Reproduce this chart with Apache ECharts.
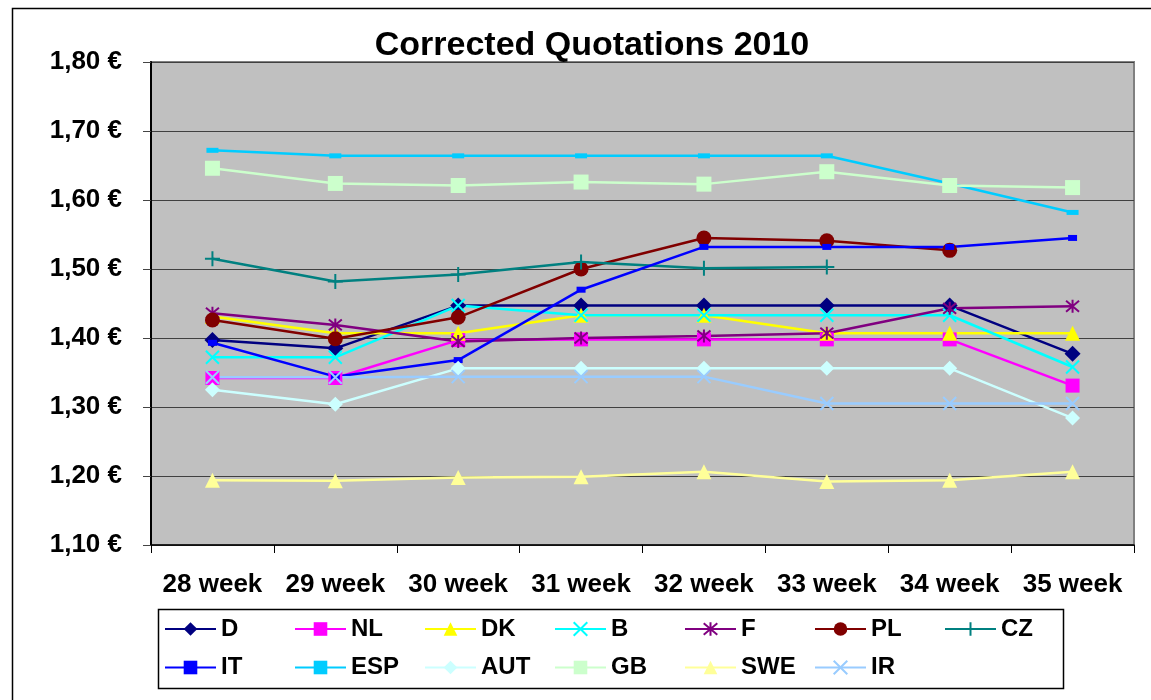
<!DOCTYPE html>
<html>
<head>
<meta charset="utf-8">
<script src="https://cdn.jsdelivr.net/npm/echarts@6/dist/echarts.min.js"></script>
<style>
  html, body { margin: 0; padding: 0; background: #fff; }
  #chart { width: 1151px; height: 700px; }
</style>
</head>
<body>
<div id="chart"></div>
<script>
// weeks on the x axis
var weeks = ['28 week', '29 week', '30 week', '31 week', '32 week', '33 week', '34 week', '35 week'];

// quotations per country (EUR)
var dD   = [1.397, 1.385, 1.447, 1.447, 1.447, 1.447, 1.447, 1.377];
var dNL  = [1.342, 1.342, 1.397, 1.398, 1.398, 1.398, 1.398, 1.331];
var dDK  = [1.431, 1.407, 1.407, 1.433, 1.433, 1.407, 1.407, 1.407];
var dB   = [1.372, 1.372, 1.447, 1.433, 1.433, 1.433, 1.433, 1.358];
var dF   = [1.436, 1.419, 1.395, 1.400, 1.403, 1.407, 1.443, 1.446];
var dPL  = [1.426, 1.399, 1.430, 1.500, 1.545, 1.541, 1.527, null];
var dCZ  = [1.515, 1.482, 1.492, 1.510, 1.501, 1.503, null, null];
var dIT  = [1.393, 1.344, 1.368, 1.470, 1.532, 1.532, 1.532, 1.545];
var dESP = [1.672, 1.664, 1.664, 1.664, 1.664, 1.664, 1.624, 1.582];
var dAUT = [1.325, 1.304, 1.356, 1.356, 1.356, 1.356, 1.356, 1.284];
var dGB  = [1.646, 1.624, 1.621, 1.626, 1.623, 1.641, 1.621, 1.618];
var dSWE = [1.194, 1.193, 1.198, 1.199, 1.206, 1.192, 1.194, 1.206];
var dIR  = [1.343, 1.343, 1.344, 1.344, 1.344, 1.305, 1.305, 1.305];

var row1 = ['D', 'NL', 'DK', 'B', 'F', 'PL', 'CZ'];
var row2 = ['IT', 'ESP', 'AUT', 'GB', 'SWE', 'IR'];

var font = "'Liberation Sans', Arial, sans-serif";

var X_PATH = 'path://M0,0L10,10M10,0L0,10';
var STAR_PATH = 'path://M0,0L10,10M10,0L0,10M5,-1L5,11';
var PLUS_PATH = 'path://M5,0L5,10M0,5L10,5';

function line(name, data, color, symbol, size, stroked) {
  var s = {
    name: name,
    type: 'line',
    data: data,
    symbol: symbol,
    symbolSize: size,
    lineStyle: { width: 2.5, color: color },
    itemStyle: { color: color }
  };
  if (stroked) {
    s.itemStyle.borderColor = color;
    s.itemStyle.borderWidth = 2;
  }
  return s;
}

var legendBase = {
  orient: 'horizontal',
  left: 164,
  padding: 0,
  itemGap: 0,
  itemWidth: 51,
  itemHeight: 17,
  formatter: '{n|{name}}',
  textStyle: {
    rich: {
      n: { width: 73, fontSize: 24, fontWeight: 'bold', fontFamily: font, color: '#000', lineHeight: 28 }
    }
  }
};

var chart = echarts.init(document.getElementById('chart'));

chart.setOption({
  animation: false,
  textStyle: { fontFamily: font },
  title: {
    text: 'Corrected Quotations 2010',
    left: 592,
    textAlign: 'center',
    top: 29,
    padding: 0,
    textStyle: { fontSize: 34, fontWeight: 'bold', color: '#000', fontFamily: font }
  },
  graphic: [
    { type: 'rect', left: 10, top: 6, z: -10, silent: true,
      shape: { width: 1200, height: 800 },
      style: { fill: 'none', stroke: '#000', lineWidth: 1.5 } },
    { type: 'rect', left: 156, top: 607, z: -10, silent: true,
      shape: { width: 905, height: 79 },
      style: { fill: 'none', stroke: '#000', lineWidth: 1.5 } }
  ],
  legend: [
    Object.assign({}, legendBase, { data: row1, top: 617 }),
    Object.assign({}, legendBase, { data: row2, top: 655.5 })
  ],
  grid: {
    left: 151, right: 17, top: 62, bottom: 155,
    show: true,
    backgroundColor: '#C0C0C0',
    borderColor: '#808080',
    borderWidth: 2
  },
  xAxis: {
    type: 'category',
    data: weeks,
    boundaryGap: true,
    axisLine: { lineStyle: { color: '#000', width: 1.5 } },
    axisTick: { show: true, length: 8, lineStyle: { color: '#000' } },
    axisLabel: { interval: 0, margin: 27, fontSize: 26, fontWeight: 'bold', color: '#000', fontFamily: font }
  },
  yAxis: {
    type: 'value',
    min: 1.1,
    max: 1.8,
    interval: 0.1,
    axisLine: { show: true, lineStyle: { color: '#000', width: 2 } },
    axisTick: { show: true, length: 8, lineStyle: { color: '#444' } },
    splitLine: { show: true, lineStyle: { color: '#404040', width: 1.2 } },
    axisLabel: {
      margin: 29, fontSize: 26, fontWeight: 'bold', color: '#000', fontFamily: font,
      formatter: function (v) { return v.toFixed(2).replace('.', ',') + ' €'; }
    }
  },
  series: [
    line('D', dD, '#000080', 'diamond', 16),
    line('NL', dNL, '#FF00FF', 'rect', 14),
    line('DK', dDK, '#FFFF00', 'triangle', 15),
    line('B', dB, '#00FFFF', X_PATH, 13, true),
    line('F', dF, '#800080', STAR_PATH, 13, true),
    line('PL', dPL, '#800000', 'circle', 15),
    line('CZ', dCZ, '#008080', PLUS_PATH, 15, true),
    line('IT', dIT, '#0000FF', 'rect', [9, 6]),
    line('ESP', dESP, '#00CCFF', 'rect', [12, 5]),
    line('AUT', dAUT, '#CCFFFF', 'diamond', 15),
    line('GB', dGB, '#CCFFCC', 'rect', 15),
    line('SWE', dSWE, '#FFFF99', 'triangle', 15),
    line('IR', dIR, '#99CCFF', X_PATH, 13, true)
  ]
});
</script>
</body>
</html>
